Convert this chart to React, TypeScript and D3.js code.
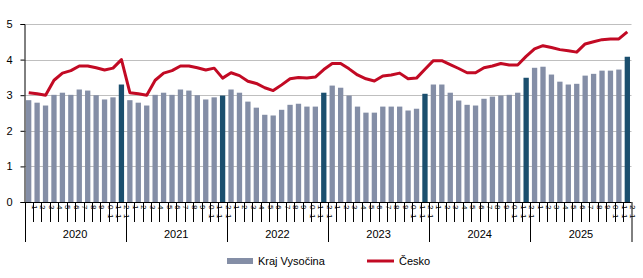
import { useEffect, useRef } from 'react';
import * as d3 from 'd3';

// monthly values, Jan 2020 – Dec 2025
const years = ['2020', '2021', '2022', '2023', '2024', '2025'];
const months = ['1', '2', '3', '4', '5', '6', '7', '8', '9', '10', '11', '12'];

const vysocina = [
  2.86, 2.79, 2.71, 3.01, 3.07, 3.01, 3.16, 3.13, 3.0, 2.88, 2.94, 3.3,
  2.86, 2.79, 2.71, 3.01, 3.07, 3.01, 3.16, 3.13, 3.0, 2.88, 2.94, 2.99,
  3.16, 3.07, 2.82, 2.65, 2.45, 2.43, 2.59, 2.73, 2.76, 2.68, 2.68, 3.07,
  3.27, 3.21, 2.99, 2.68, 2.51, 2.51, 2.68, 2.68, 2.68, 2.57, 2.62, 3.04,
  3.3, 3.3, 3.07, 2.85, 2.73, 2.71, 2.9, 2.96, 2.99, 3.01, 3.07, 3.49,
  3.77, 3.8, 3.58, 3.38, 3.3, 3.32, 3.55, 3.6, 3.69, 3.69, 3.72, 4.08,
];

const cesko = [
  3.07, 3.04, 3.0, 3.42, 3.62, 3.69, 3.82, 3.82, 3.77, 3.71, 3.76, 4.0,
  3.07, 3.04, 3.0, 3.42, 3.62, 3.69, 3.82, 3.82, 3.77, 3.71, 3.76, 3.48,
  3.63, 3.55, 3.39, 3.33, 3.21, 3.13, 3.29, 3.46, 3.5, 3.48, 3.51, 3.72,
  3.89, 3.89, 3.74, 3.57, 3.46, 3.4, 3.54, 3.57, 3.62, 3.46, 3.48, 3.73,
  3.97, 3.97, 3.86, 3.75, 3.63, 3.63, 3.77, 3.82, 3.89, 3.85, 3.85, 4.09,
  4.3, 4.39, 4.34, 4.28, 4.25, 4.21, 4.44, 4.5, 4.56, 4.58, 4.58, 4.78,
];

const yTicks = [0, 1, 2, 3, 4, 5];

const App = () => {
  const svgRef = useRef(null);

  useEffect(() => {
    const svg = d3.select(svgRef.current);
    svg.selectAll('*').remove();

    const left = 24.5, right = 631.5, top = 24, bottom = 202;
    const font = '"Liberation Sans", Arial, sans-serif';

    const keys = [];
    years.forEach(y => months.forEach(m => keys.push(y + '-' + m)));

    const x = d3.scaleBand().domain(keys).range([left, right]).paddingInner(0.37).paddingOuter(0.18);
    const xs = d3.scaleBand().domain(keys).range([left, right]); // category slots
    const y = d3.scaleLinear().domain([0, 5]).range([bottom, top]);

    // gridlines
    svg.append('g')
      .selectAll('line')
      .data(yTicks.filter(d => d > 0))
      .enter()
      .append('line')
      .attr('x1', left).attr('x2', right)
      .attr('y1', d => Math.round(y(d)) + 0.5).attr('y2', d => Math.round(y(d)) + 0.5)
      .attr('stroke', '#bfbfbf').attr('stroke-width', 1);

    // bars, December highlighted
    svg.append('g')
      .selectAll('rect')
      .data(vysocina)
      .enter()
      .append('rect')
      .attr('x', (d, i) => x(keys[i]))
      .attr('y', d => y(d))
      .attr('width', x.bandwidth())
      .attr('height', d => bottom - y(d))
      .attr('fill', (d, i) => (i % 12 === 11 ? '#1b4f6e' : '#848ea6'));

    // line
    const line = d3.line()
      .x((d, i) => xs(keys[i]) + xs.bandwidth() / 2)
      .y(d => y(d));
    svg.append('path')
      .datum(cesko)
      .attr('d', line)
      .attr('fill', 'none')
      .attr('stroke', '#c20a24')
      .attr('stroke-width', 3)
      .attr('stroke-linejoin', 'round');

    // y axis
    const yAxis = svg.append('g')
      .attr('transform', `translate(${left},0)`)
      .call(d3.axisLeft(y).tickValues(yTicks).tickSize(4).tickPadding(8).tickFormat(d3.format('d')));
    yAxis.select('.domain').attr('stroke', '#000');
    yAxis.selectAll('.tick line').attr('stroke', '#000');
    yAxis.selectAll('.tick text').style('font-family', font).style('font-size', '11px').attr('fill', '#000');

    // x axis: month ticks + rotated month labels (two-digit ones wrap)
    const gx = svg.append('g');
    gx.append('line')
      .attr('x1', left).attr('x2', right)
      .attr('y1', bottom + 0.5).attr('y2', bottom + 0.5)
      .attr('stroke', '#000');

    keys.forEach((k, i) => {
      const x0 = Math.round(xs(k)) + 0.5;
      const isYear = i % 12 === 0;
      gx.append('line')
        .attr('x1', x0).attr('x2', x0)
        .attr('y1', bottom).attr('y2', isYear ? 242 : 222)
        .attr('stroke', '#000');
      const cx = xs(k) + xs.bandwidth() / 2;
      const m = k.split('-')[1];
      const parts = m.length > 1 ? [m.slice(1), m.slice(0, 1)] : [m];
      parts.forEach((p, j) => {
        gx.append('text')
          .attr('transform', `translate(${cx + 3},${205 + j * 9}) rotate(90)`)
          .attr('text-anchor', 'start')
          .style('font-family', font)
          .style('font-size', '8px')
          .attr('fill', '#000')
          .text(p);
      });
    });
    gx.append('line')
      .attr('x1', right + 0.5).attr('x2', right + 0.5)
      .attr('y1', bottom).attr('y2', 242)
      .attr('stroke', '#000');

    years.forEach(yr => {
      const x0 = xs(yr + '-1');
      const x1 = xs(yr + '-12') + xs.bandwidth();
      gx.append('text')
        .attr('x', (x0 + x1) / 2)
        .attr('y', 238)
        .attr('text-anchor', 'middle')
        .style('font-family', font)
        .style('font-size', '11px')
        .attr('fill', '#000')
        .text(yr);
    });

    // legend
    const lg = svg.append('g').style('font-family', font).style('font-size', '11px');
    lg.append('rect').attr('x', 227).attr('y', 258).attr('width', 26).attr('height', 6).attr('fill', '#848ea6');
    lg.append('text').attr('x', 258).attr('y', 265).text('Kraj Vysočina');
    lg.append('line').attr('x1', 367).attr('x2', 394).attr('y1', 261).attr('y2', 261)
      .attr('stroke', '#c20a24').attr('stroke-width', 3);
    lg.append('text').attr('x', 399).attr('y', 265).text('Česko');
  }, []);

  return (
    <svg ref={svgRef} width={643} height={278}
      style={{ position: 'absolute', left: 0, top: 0, background: '#fff' }} />
  );
};

export default App;
